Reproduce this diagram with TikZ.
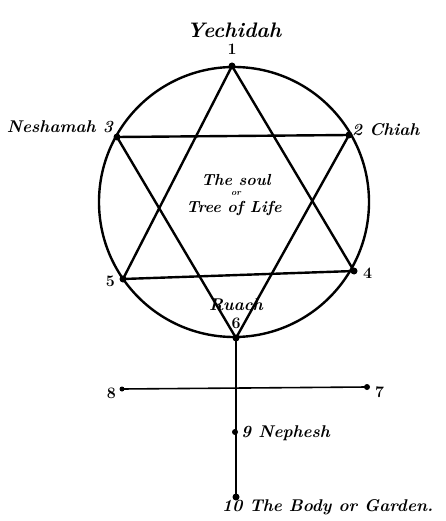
\documentclass[tikz,border=0pt]{standalone}
\begin{document}
\begin{tikzpicture}[x=1pt,y=-1pt,
  ln/.style={line width=2.4pt, line cap=round},
  thin/.style={line width=1.6pt, line cap=round},
  dot/.style={circle, fill=black, inner sep=0pt, minimum size=7pt},
  lab/.style={font=\bfseries\itshape\fontsize{17}{19}\selectfont, inner sep=1pt},
  num/.style={font=\bfseries\fontsize{16}{18}\selectfont, inner sep=1pt}]
\useasboundingbox (0,0) rectangle (445,521);
\coordinate (c) at (234,202);
\node[dot] (p1) at (232,66) {};
\node[dot] (p2) at (349,135) {};
\node[dot] (p3) at (117,137) {};
\node[dot] (p4) at (354,271) {};
\node[dot] (p5) at (123,279) {};
\node[dot] (p6) at (236,338) {};
\node[dot, minimum size=6pt] (p7) at (367,387) {};
\node[dot, minimum size=5pt] (p8) at (122,389) {};
\node[dot, minimum size=6pt] (p9) at (235,432) {};
\node[dot] (p10) at (236,497) {};
\draw[ln] (c) circle[radius=135];
\draw[ln] (p1.center) -- (p4.center) -- (p5.center) -- cycle;
\draw[ln] (p3.center) -- (p2.center) -- (p6.center) -- cycle;
\draw[thin] (p6.center) -- (p10.center);
\draw[thin] (p8.center) -- (p7.center);
% labels
\node[lab, font=\bfseries\itshape\fontsize{21}{23}\selectfont] (ty) at (234,30) {Yechidah};
\node[num] (n1) at (232,49) {1};
\node[lab, anchor=east] (tn) at (114,127) {Neshamah 3};
\node[lab, anchor=west] (tc) at (351,130) {2 Chiah};
\node[num, anchor=east] (n5) at (116,281) {5};
\node[num, anchor=west] (n4) at (362,273) {4};
\node[lab] (tr) at (236,305) {Ruach};
\node[num] (n6) at (236,323) {6};
\node[lab, font=\bfseries\itshape\fontsize{16}{18}\selectfont] (ts) at (236,180) {The soul};
\node[lab, font=\bfseries\itshape\fontsize{9}{10}\selectfont] (tor) at (236,194) {or};
\node[lab, font=\bfseries\itshape\fontsize{16}{18}\selectfont] (tt) at (234,208) {Tree of Life};
\node[num, anchor=east] (n8) at (117,393) {8};
\node[num, anchor=west] (n7) at (374,392) {7};
\node[lab, anchor=west] (t9) at (240,433) {9 Nephesh};
\node[lab, anchor=west] (t10) at (221,507) {10 The Body or Garden.};
\end{tikzpicture}
\end{document}
